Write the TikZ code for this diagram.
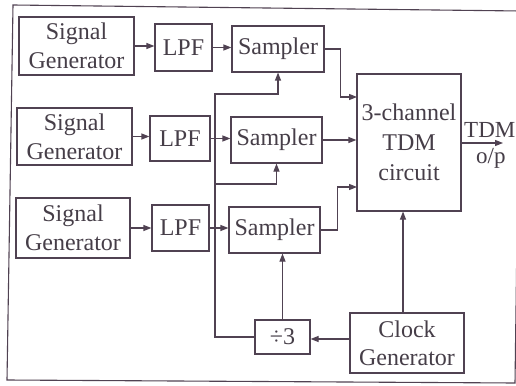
\documentclass[tikz,border=0pt]{standalone}
\usepackage{fontspec}
\setmainfont{Liberation Serif}
\usetikzlibrary{arrows.meta,calc}
\definecolor{ink}{RGB}{80,66,82}
\definecolor{txt}{RGB}{70,62,72}
\tikzset{
  box/.style={draw=ink, line width=1.1pt, rectangle, inner sep=0pt, align=center,
    font=\fontsize{24}{29}\selectfont, text=txt},
  conn/.style={draw=ink, line width=1.1pt},
  arr/.style={conn, -{Triangle[length=8pt,width=6pt]}},
  lbl/.style={font=\fontsize{23}{28}\selectfont, text=txt, inner sep=0pt}
}
\begin{document}
\begin{tikzpicture}[x=1pt,y=-1pt]
\useasboundingbox (0,0) rectangle (516,385);
\clip (0,0) rectangle (516,385);
\fill[white] (0,0) rectangle (516,385);
% outer frame
\draw[conn] (13,5) -- (520,11) -- (515,383) -- (7,380) -- cycle;
% signal generators
\node[box, minimum width=115pt, minimum height=58pt] (sg1) at (76.5,46) {Signal\\Generator};
\node[box, minimum width=115pt, minimum height=57pt] (sg2) at (74.5,136.5) {Signal\\Generator};
\node[box, minimum width=114pt, minimum height=60pt] (sg3) at (73,228) {Signal\\Generator};
% LPFs
\node[box, minimum width=57pt, minimum height=47pt] (lpf1) at (183.5,47.5) {LPF};
\node[box, minimum width=60pt, minimum height=45pt] (lpf2) at (180,138.5) {LPF};
\node[box, minimum width=57pt, minimum height=46pt] (lpf3) at (180.5,228) {LPF};
% samplers
\node[box, minimum width=92pt, minimum height=46pt] (s1) at (278,49) {Sampler};
\node[box, minimum width=91pt, minimum height=46pt] (s2) at (276.5,140) {Sampler};
\node[box, minimum width=91pt, minimum height=46pt] (s3) at (274.5,230) {Sampler};
% TDM
\node[box, minimum width=104pt, minimum height=137pt, font=\fontsize{24}{30}\selectfont] (tdm) at (409,142.5) {3-channel\\TDM\\circuit};
% divider and clock
\node[box, minimum width=55pt, minimum height=34pt] (div) at (282.5,337) {÷3};
\node[box, minimum width=114pt, minimum height=60pt, font=\fontsize{24}{28}\selectfont] (clk) at (407,343) {Clock\\Generator};
% output labels
\node[lbl, anchor=base west] (tdml) at (464,137) {TDM};
\node[lbl, anchor=base west] (opl) at (476,163) {o/p};
% coordinates
\coordinate (bT) at (215,94);
\coordinate (bM) at (215,184);
\coordinate (tin1) at (357,97);
\coordinate (tin3) at (357,187);
\coordinate (tout) at (503,143);
% generator -> LPF
\draw[arr] (sg1.east) -- (sg1.east -| lpf1.west);
\draw[arr] (sg2.east) -- (sg2.east -| lpf2.west);
\draw[arr] (sg3.east) -- (sg3.east -| lpf3.west);
% LPF -> sampler
\draw[arr] (lpf1.east) -- (lpf1.east -| s1.west);
\draw[arr] (lpf2.east) -- (lpf2.east -| s2.west);
\draw[arr] (lpf3.east) -- (lpf3.east -| s3.west);
% sampler -> TDM
\draw[arr] (s1.east) -- ++(16,0) |- (tin1);
\draw[arr] (s2.east) -- (s2.east -| tdm.west);
\draw[arr] (s3.east) -- ++(17,0) |- (tin3);
% TDM output
\draw[arr] (tdm.east |- tout) -- (tout);
% clock connections
\draw[arr] ([xshift=-4pt]clk.north) -- ([xshift=-4pt]clk.north |- tdm.south);
\draw[arr] ([yshift=4pt]clk.west) -- ([yshift=4pt]clk.west -| div.east);
% divider -> samplers
\draw[arr] (div.north) -- (div.north |- s3.south);
\draw[arr] (div.west) -| (bT) -- (bT -| s1.south) -- (s1.south);
\draw[arr] (bM) -| (s2.south);
\end{tikzpicture}
\end{document}
